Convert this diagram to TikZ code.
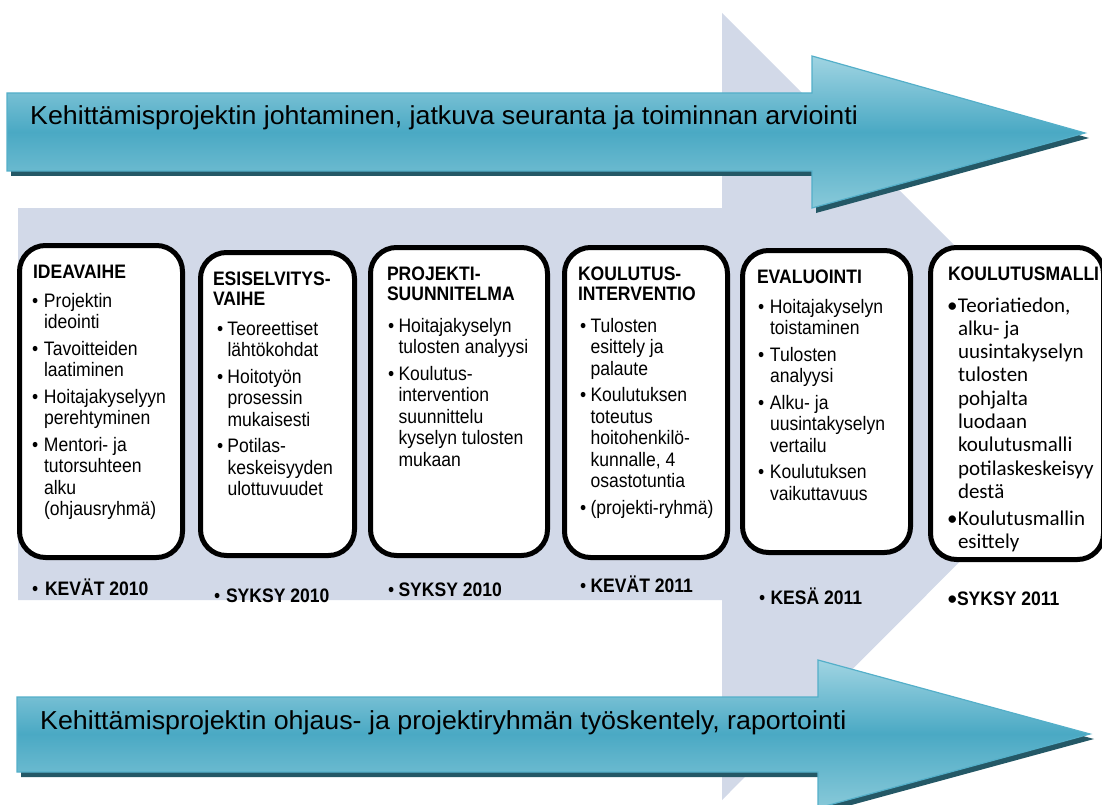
\documentclass[tikz,border=0pt]{standalone}
\usepackage{fontspec}
\setmainfont{Liberation Sans}
\newfontfamily\arrowfont[FakeStretch=1.03]{Liberation Sans}
\newfontfamily\boxfont[FakeStretch=0.9]{Liberation Sans}
\newfontfamily\calfont{Carlito}
\definecolor{bgarrow}{RGB}{210,217,232}
\definecolor{atop}{RGB}{160,212,226}
\definecolor{amid}{RGB}{74,169,196}
\definecolor{abot}{RGB}{136,201,217}
\definecolor{aedge}{RGB}{84,175,201}
\definecolor{ashadow}{RGB}{36,88,102}
\newlength\bind
\newlength\igap
\newcommand\bitem[1]{\noindent\hangindent=\bind\hangafter=1\makebox[\bind][l]{•}#1\par\vspace{\igap}}
\newcommand\bodyfmt{\boxfont\fontsize{19.5}{21.5}\selectfont}
\newcommand\titlefmt{\boxfont\bfseries\fontsize{19.5}{20.5}\selectfont}
\newcommand\calfmt{\calfont\fontsize{21}{23.3}\selectfont}
\newcommand\datefmt[1]{{\boxfont\fontsize{19.5}{20}\selectfont\bfseries #1}}
\begin{document}
\begin{tikzpicture}[x=1pt,y=-1pt,
  phasebox/.style={draw=black, line width=5pt, fill=white, rounded corners=26pt, inner sep=0pt},
  txt/.style={anchor=base west, inner sep=0pt, outer sep=0pt},
  arrowtext/.style={anchor=base west, inner sep=0pt, font=\arrowfont\fontsize{26}{28}\selectfont},
  bandshade/.style={top color=atop, bottom color=abot, middle color=amid, draw=aedge, line width=1.2pt}]
\useasboundingbox (0,0) rectangle (1102,805);
\clip (0,0) rectangle (1102,805);
% background light arrow
\fill[bgarrow] (18,208) -- (722,208) -- (722,13) -- (1115,406) -- (722,800) -- (722,600) -- (18,600) -- cycle;
% top arrow
\fill[ashadow, shift={(4,5)}] (7,93) -- (812,93) -- (812,56) -- (1085,133) -- (812,208) -- (812,171) -- (7,171) -- cycle;
\shadedraw[bandshade] (7,93) -- (812,93) -- (812,56) -- (1085,133) -- (812,208) -- (812,171) -- (7,171) -- cycle;
\node[arrowtext] (toptext) at (30,125) {Kehittämisprojektin johtaminen, jatkuva seuranta ja toiminnan arviointi};
% bottom arrow
\fill[ashadow, shift={(4,5)}] (17,697) -- (818,697) -- (818,660) -- (1090,734) -- (818,808) -- (818,772) -- (17,772) -- cycle;
\shadedraw[bandshade] (17,697) -- (818,697) -- (818,660) -- (1090,734) -- (818,808) -- (818,772) -- (17,772) -- cycle;
\node[arrowtext] (bottext) at (40,729) {Kehittämisprojektin ohjaus- ja projektiryhmän työskentely, raportointi};
% phase boxes
\node[phasebox, minimum width=163pt, minimum height=312pt] (b1) at (101,401.5) {};
\node[phasebox, minimum width=154pt, minimum height=303pt] (b2) at (277.5,404) {};
\node[phasebox, minimum width=177pt, minimum height=308pt] (b3) at (459,401.5) {};
\node[phasebox, minimum width=163pt, minimum height=310pt] (b4) at (646,402.5) {};
\node[phasebox, minimum width=168pt, minimum height=302pt] (b5) at (826.5,401.5) {};
\node[phasebox, minimum width=173pt, minimum height=312pt] (b6) at (1017,403.5) {};
% titles
\node[txt] (h1) at (33,278) {\begin{minipage}[t]{200pt}\titlefmt IDEAVAIHE\end{minipage}};
\node[txt] (h2) at (213,285) {\begin{minipage}[t]{200pt}\titlefmt ESISELVITYS-\\VAIHE\end{minipage}};
\node[txt] (h3) at (387,280) {\begin{minipage}[t]{200pt}\titlefmt PROJEKTI-\\SUUNNITELMA\end{minipage}};
\node[txt] (h4) at (578,280) {\begin{minipage}[t]{200pt}\titlefmt KOULUTUS-\\INTERVENTIO\end{minipage}};
\node[txt] (h5) at (757,283) {\begin{minipage}[t]{200pt}\titlefmt EVALUOINTI\end{minipage}};
\node[txt] (h6) at (948,280) {\begin{minipage}[t]{200pt}\titlefmt KOULUTUSMALLI\end{minipage}};
% bullet lists
\node[txt] (l1) at (32,307) {\setlength\bind{12pt}\setlength\igap{5pt}\begin{minipage}[t]{200pt}\bodyfmt
\bitem{Projektin\\ideointi}
\bitem{Tavoitteiden\\laatiminen}
\bitem{Hoitajakyselyyn\\perehtyminen}
\bitem{Mentori- ja\\tutorsuhteen\\alku\\(ohjausryhmä)}
\end{minipage}};
\node[txt] (l2) at (217,335) {\setlength\bind{10.5pt}\setlength\igap{5pt}\begin{minipage}[t]{200pt}\bodyfmt
\bitem{Teoreettiset\\lähtökohdat}
\bitem{Hoitotyön\\prosessin\\mukaisesti}
\bitem{Potilas-\\keskeisyyden\\ulottuvuudet}
\end{minipage}};
\node[txt] (l3) at (388,332) {\setlength\bind{10.5pt}\setlength\igap{5pt}\begin{minipage}[t]{200pt}\bodyfmt
\bitem{Hoitajakyselyn\\tulosten analyysi}
\bitem{Koulutus-\\intervention\\suunnittelu\\kyselyn tulosten\\mukaan}
\end{minipage}};
\node[txt] (l4) at (580,332) {\setlength\bind{10.5pt}\setlength\igap{5pt}\begin{minipage}[t]{200pt}\bodyfmt
\bitem{Tulosten\\esittely ja\\palaute}
\bitem{Koulutuksen\\toteutus\\hoitohenkilö-\\kunnalle, 4\\osastotuntia}
\bitem{(projekti-ryhmä)}
\end{minipage}};
\node[txt] (l5) at (758,313) {\setlength\bind{12pt}\setlength\igap{5pt}\begin{minipage}[t]{200pt}\bodyfmt
\bitem{Hoitajakyselyn\\toistaminen}
\bitem{Tulosten\\analyysi}
\bitem{Alku- ja\\uusintakyselyn\\vertailu}
\bitem{Koulutuksen\\vaikuttavuus}
\end{minipage}};
\node[txt] (l6) at (947,312) {\setlength\bind{11pt}\setlength\igap{3.7pt}\begin{minipage}[t]{200pt}\calfmt
\bitem{Teoriatiedon,\\alku- ja\\uusintakyselyn\\tulosten\\pohjalta\\luodaan\\koulutusmalli\\potilaskeskeisyy\\destä}
\bitem{Koulutusmallin\\esittely}
\end{minipage}};
% dates
\node[txt] (d1) at (32,595) {{\boxfont\fontsize{19.5}{20}\selectfont\makebox[13pt][l]{•}}\datefmt{KEVÄT 2010}};
\node[txt] (d2) at (214,602) {{\boxfont\fontsize{19.5}{20}\selectfont\makebox[12pt][l]{•}}\datefmt{SYKSY 2010}};
\node[txt] (d3) at (388,596) {{\boxfont\fontsize{19.5}{20}\selectfont\makebox[10.5pt][l]{•}}\datefmt{SYKSY 2010}};
\node[txt] (d4) at (580,592) {{\boxfont\fontsize{19.5}{20}\selectfont\makebox[10.5pt][l]{•}}\datefmt{KEVÄT 2011}};
\node[txt] (d5) at (759,604) {{\boxfont\fontsize{19.5}{20}\selectfont\makebox[11.5pt][l]{•}}\datefmt{KESÄ 2011}};
\node[txt] (d6) at (947,605) {{\calfmt\makebox[10pt][l]{•}}\datefmt{SYKSY 2011}};
\end{tikzpicture}
\end{document}
